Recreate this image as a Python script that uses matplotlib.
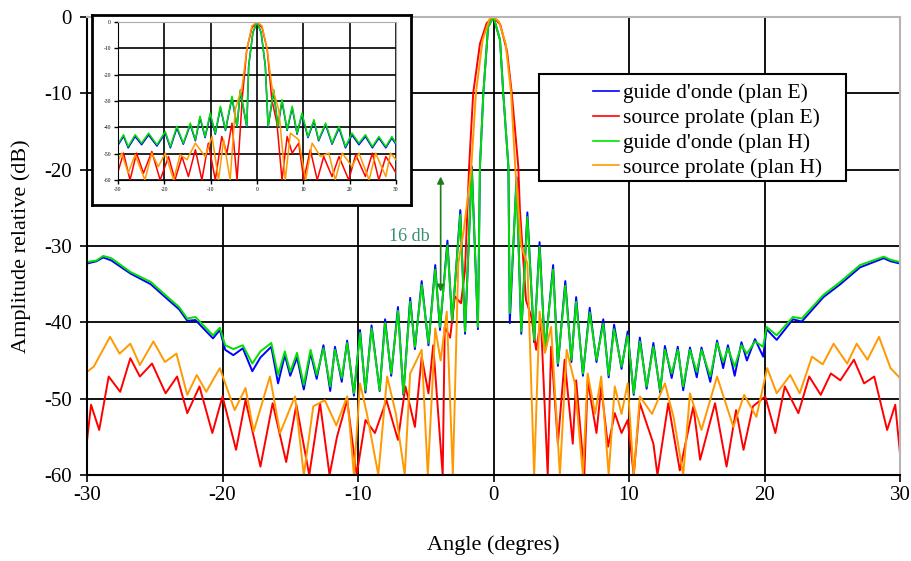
import matplotlib
matplotlib.use('Agg')
import matplotlib.pyplot as plt
from matplotlib.lines import Line2D

plt.rcParams['font.family'] = ['Liberation Serif', 'DejaVu Serif']
plt.rcParams['axes.unicode_minus'] = False

# guide d'onde, plans E (blue) and H (green), same angles
guide_ang = [-30.0, -29.3, -28.8, -28.2, -26.8, -25.3, -24.1, -23.2, -22.6, -22.0,
             -21.3, -20.7, -20.2, -19.8, -19.2, -18.5, -17.8, -17.2, -16.4, -15.9,
             -15.4, -15.0, -14.5, -14.0, -13.5, -13.05, -12.55, -12.05, -11.7, -11.2,
             -10.8, -10.3, -9.85, -9.45, -9.0, -8.4, -8.0, -7.55, -7.05, -6.65,
             -6.15, -5.8, -5.3, -4.8, -4.3, -3.95, -3.4, -3.05, -2.45, -2.1,
             -1.6, -1.15, -1.0, -0.75, -0.4, 0.0, 0.48, 0.72, 1.1, 1.2,
             1.7, 2.05, 2.5, 3.0, 3.4, 3.8, 4.4, 4.75, 5.3, 5.75,
             6.1, 6.6, 7.1, 7.6, 8.1, 8.5, 8.9, 9.45, 9.9, 10.35,
             10.8, 11.3, 11.8, 12.3, 12.65, 13.15, 13.6, 14.0, 14.5, 15.0,
             15.35, 16.0, 16.5, 16.95, 17.3, 17.8, 18.3, 18.7, 19.3, 19.9,
             20.15, 20.9, 22.1, 22.75, 24.35, 25.6, 27.05, 28.8, 29.3, 30.0]
guide_h = [-32.1, -31.9, -31.3, -31.6, -33.4, -34.7, -36.6, -38.0, -39.5, -39.3,
           -40.6, -41.7, -40.7, -43.0, -43.5, -43.0, -45.4, -43.8, -42.7, -46.9,
           -43.8, -46.5, -44.0, -48.2, -43.6, -46.9, -43.4, -48.4, -43.6, -47.3,
           -42.7, -49.3, -41.4, -48.9, -40.8, -48.9, -40.1, -46.7, -38.5, -49.3,
           -37.3, -43.2, -35.1, -42.7, -33.1, -40.6, -29.9, -39.7, -25.9, -41.2,
           -20.0, -40.6, -19.6, -10.0, -1.3, 0.0, -3.0, -10.0, -19.6, -38.8,
           -21.5, -41.2, -26.2, -42.3, -30.1, -43.6, -33.1, -45.4, -35.2, -44.9,
           -37.3, -46.7, -38.7, -44.9, -40.2, -46.9, -40.9, -45.8, -41.7, -49.3,
           -42.5, -48.4, -43.2, -48.9, -43.6, -46.7, -43.6, -48.4, -43.6, -46.5,
           -43.6, -47.1, -42.7, -45.2, -43.4, -45.8, -43.0, -44.1, -42.5, -43.2,
           -40.6, -41.7, -39.3, -39.5, -36.4, -34.7, -32.5, -31.4, -31.8, -32.1]
guide_e = [-32.3, -32.0, -31.5, -31.9, -33.6, -35.0, -36.9, -38.3, -39.8, -39.7,
           -41.0, -42.1, -41.0, -43.6, -44.3, -43.4, -46.4, -44.6, -43.2, -48.0,
           -44.3, -47.0, -44.6, -48.8, -44.0, -47.4, -43.0, -49.0, -43.2, -47.8,
           -42.4, -49.6, -41.0, -49.2, -40.4, -49.0, -39.6, -47.0, -38.0, -49.5,
           -36.8, -43.5, -34.6, -43.0, -32.5, -41.0, -29.3, -40.1, -25.3, -41.5,
           -19.6, -40.9, -19.6, -10.0, -1.3, 0.0, -3.0, -10.0, -19.6, -40.1,
           -21.0, -41.5, -25.6, -42.6, -29.5, -43.9, -32.5, -45.7, -34.6, -45.2,
           -36.7, -47.0, -38.1, -45.2, -39.6, -47.2, -40.3, -46.1, -41.2, -49.5,
           -42.0, -48.7, -42.7, -49.2, -43.1, -47.3, -43.2, -48.9, -43.3, -47.2,
           -43.3, -47.8, -42.4, -46.0, -43.0, -47.0, -42.6, -45.0, -42.2, -44.5,
           -40.9, -42.3, -39.6, -39.9, -36.7, -35.0, -32.8, -31.6, -32.0, -32.3]

# source prolate plan E (red)
prolE_ang = [-30.0, -29.7, -29.1, -28.4, -27.55, -26.8, -26.1, -25.2, -24.2, -23.35,
             -22.6, -21.7, -20.75, -20.0, -19.0, -18.3, -17.2, -16.3, -15.3, -14.55,
             -13.6, -12.8, -12.1, -11.55, -10.8, -10.1, -9.45, -8.75, -7.9, -7.05,
             -6.5, -5.8, -5.3, -4.8, -4.45, -3.75, -3.6, -3.2, -2.85, -2.4,
             -2.1, -1.8, -1.5, -1.0, -0.5, 0.0, 0.5, 1.0, 1.35, 1.83,
             1.95, 2.4, 2.8, 3.15, 3.5, 4.0, 4.25, 4.75, 5.25, 5.85,
             6.1, 6.7, 6.95, 7.6, 7.95, 8.45, 8.95, 9.45, 9.9, 10.35,
             10.8, 11.8, 12.1, 12.9, 13.75, 14.75, 15.25, 16.35, 17.2, 17.9,
             18.45, 19.15, 20.05, 20.8, 21.5, 22.5, 23.3, 24.15, 24.9, 25.6,
             26.6, 27.35, 28.1, 29.05, 29.65, 30.0]
prolE_db = [-55.5, -50.8, -54.1, -47.1, -49.1, -44.7, -47.1, -45.4, -49.3, -47.1,
            -51.9, -48.4, -54.5, -49.7, -56.7, -50.2, -58.9, -50.6, -58.3, -50.8,
            -60.0, -50.6, -60.0, -55.0, -50.2, -60.0, -52.8, -54.5, -50.2, -55.4,
            -48.4, -53.7, -44.5, -49.3, -43.0, -60.0, -40.6, -42.0, -36.6, -37.5,
            -33.1, -19.6, -10.0, -3.5, -0.8, 0.0, -1.0, -4.5, -10.0, -19.6,
            -25.3, -37.1, -39.3, -43.6, -39.7, -60.0, -43.2, -55.9, -44.9, -55.9,
            -47.6, -60.0, -47.6, -54.5, -48.4, -56.3, -51.9, -54.5, -52.8, -60.0,
            -50.6, -55.9, -60.0, -50.6, -59.4, -51.0, -58.0, -50.6, -58.9, -51.5,
            -56.7, -51.0, -49.7, -54.5, -48.4, -51.9, -47.1, -49.5, -46.7, -47.6,
            -44.9, -48.0, -47.1, -54.1, -50.8, -57.2]

# source prolate plan H (orange)
prolH_ang = [-30.0, -29.5, -28.3, -27.6, -26.8, -26.1, -25.1, -24.25, -23.4, -22.6,
             -21.9, -21.2, -20.2, -19.1, -18.3, -17.7, -16.5, -15.75, -14.65, -14.0,
             -13.3, -12.45, -11.6, -10.8, -10.3, -9.85, -9.35, -8.5, -7.85, -7.2,
             -6.55, -6.15, -5.3, -4.85, -4.3, -3.9, -3.45, -3.0, -2.6, -2.2,
             -1.65, -1.3, -0.8, -0.3, 0.0, 0.4, 0.9, 1.3, 1.6, 2.05,
             2.5, 3.0, 3.4, 3.8, 4.25, 4.9, 5.4, 6.0, 6.6, 6.95,
             7.5, 7.95, 8.5, 8.95, 9.45, 9.9, 10.35, 10.8, 11.7, 12.65,
             13.3, 14.0, 14.5, 15.35, 16.5, 17.7, 18.5, 19.4, 20.2, 20.9,
             21.9, 22.6, 23.5, 24.3, 25.1, 26.1, 26.8, 27.6, 28.45, 29.3, 30.0]
prolH_db = [-46.5, -45.8, -41.9, -44.1, -42.8, -45.6, -42.5, -45.2, -44.1, -49.5,
            -46.9, -49.1, -46.0, -51.5, -48.6, -54.3, -47.1, -54.5, -49.7, -60.0,
            -51.0, -50.2, -53.5, -49.7, -60.0, -48.0, -51.9, -60.0, -47.1, -52.0,
            -60.0, -46.7, -43.6, -60.0, -40.8, -45.0, -38.6, -60.0, -32.3, -28.0,
            -20.0, -10.0, -3.0, -0.3, 0.0, -0.6, -3.5, -10.0, -19.6, -30.1,
            -32.3, -60.0, -38.6, -44.0, -40.6, -60.0, -43.6, -48.0, -60.0, -46.7,
            -52.0, -47.1, -60.0, -48.4, -52.0, -48.0, -60.0, -49.7, -52.0, -48.0,
            -52.5, -60.0, -49.3, -54.1, -47.1, -53.7, -49.5, -52.4, -46.0, -49.3,
            -46.9, -49.3, -44.5, -45.5, -42.8, -45.4, -42.8, -44.9, -41.9, -46.0, -47.3]

# inset (other measurement)
in_guide_ang = [-29.9, -28.8, -27.8, -26.3, -24.9, -23.4, -21.6, -19.8, -18.7, -17.3,
                -15.9, -14.4, -13.3, -12.3, -11.2, -10.1, -9.0, -7.9, -6.8, -5.4,
                -4.3, -3.6, -2.2, -1.8, -0.9, 0.0, 0.9, 1.8, 2.4, 3.6,
                4.5, 5.4, 6.5, 7.6, 8.65, 9.7, 11.0, 12.3, 13.3, 14.8,
                16.2, 17.7, 19.1, 20.5, 22.0, 23.4, 24.9, 26.3, 27.8, 29.1, 30.0]
in_guide_h = [-46.0, -42.8, -47.3, -42.8, -46.0, -42.2, -46.6, -41.6, -47.3, -39.6,
              -46.0, -38.4, -44.7, -35.8, -43.5, -34.6, -42.2, -32.0, -40.9, -28.2,
              -39.6, -25.7, -39.6, -16.8, -4.1, 0.0, -4.1, -16.8, -39.6, -25.7,
              -39.6, -29.5, -40.9, -32.0, -42.2, -34.6, -43.5, -37.1, -44.7, -38.4,
              -46.0, -39.6, -47.3, -42.2, -46.0, -42.8, -47.3, -43.5, -47.3, -43.5, -46.0]
in_guide_e = [-46.5, -43.4, -47.8, -43.5, -46.6, -42.9, -47.1, -42.2, -47.8, -40.3,
              -46.4, -39.0, -45.1, -36.4, -43.9, -35.2, -42.6, -32.6, -41.2, -28.8,
              -39.9, -26.3, -39.9, -16.8, -4.1, 0.0, -4.1, -16.8, -39.9, -26.3,
              -39.9, -30.1, -41.2, -32.6, -42.6, -35.2, -43.9, -37.7, -45.1, -39.0,
              -46.4, -40.3, -47.8, -42.9, -46.6, -43.5, -47.8, -44.1, -47.8, -44.1, -46.5]

in_prolE_ang = [-29.9, -28.8, -27.4, -26.0, -24.5, -22.7, -20.9, -19.1, -17.7, -16.2,
                -14.8, -13.3, -11.9, -10.5, -9.0, -7.6, -6.5, -5.4, -4.3, -3.2,
                -2.2, -1.1, 0.0, 1.1, 2.2, 3.2, 4.3, 5.4, 6.5, 7.6,
                9.0, 10.1, 11.5, 13.0, 14.4, 16.2, 17.7, 19.8, 21.3, 23.4,
                24.9, 26.3, 27.8, 29.2, 30.0]
in_prolE_db = [-56.2, -49.8, -60.0, -49.8, -57.4, -49.2, -60.0, -51.1, -60.0, -51.1,
               -58.7, -48.5, -60.0, -46.0, -60.0, -43.5, -49.8, -38.4, -60.0, -29.5,
               -10.4, -2.2, 0.0, -2.2, -10.4, -29.5, -38.4, -60.0, -43.5, -49.8,
               -46.0, -60.0, -48.5, -60.0, -51.1, -58.7, -51.1, -60.0, -50.4, -58.7,
               -49.8, -60.0, -51.1, -54.9, -57.4]

in_prolH_ang = [-29.9, -29.2, -27.8, -26.3, -24.2, -22.7, -21.3, -19.8, -18.0, -16.6,
                -15.1, -13.3, -11.2, -9.7, -8.3, -7.2, -5.8, -4.7, -3.2, -2.2,
                -1.1, 0.0, 1.1, 2.2, 3.2, 4.7, 6.1, 7.2, 9.0, 10.5,
                11.9, 13.7, 15.5, 16.9, 18.4, 20.5, 22.0, 24.2, 25.6, 27.8,
                28.8, 30.0]
in_prolH_db = [-52.3, -49.8, -57.4, -50.4, -60.0, -49.8, -54.9, -49.8, -60.0, -50.4,
               -52.3, -46.0, -51.1, -43.5, -60.0, -44.7, -60.0, -33.3, -24.4, -10.4,
               -1.5, 0.0, -1.5, -10.4, -24.4, -33.3, -60.0, -42.2, -44.7, -60.0,
               -46.0, -51.1, -49.8, -60.0, -49.8, -54.9, -49.8, -60.0, -49.8, -58.7,
               -49.8, -52.3]

labels = ["guide d'onde (plan E)", "source prolate (plan E)",
          "guide d'onde (plan H)", "source prolate (plan H)"]
colors = ['#0000ff', '#ff0000', '#00e000', '#ff9900']

fig = plt.figure(figsize=(9.11, 5.61), dpi=100)
W, H = 911, 561

ax = fig.add_axes([87 / W, 1 - 475 / H, 813 / W, 458 / H])
ax.plot(guide_ang, guide_e, color=colors[0], lw=1.4)
ax.plot(prolE_ang, prolE_db, color=colors[1], lw=1.4)
ax.plot(guide_ang, guide_h, color=colors[2], lw=1.4)
ax.plot(prolH_ang, prolH_db, color=colors[3], lw=1.4)

ax.set_xlim(-30, 30)
ax.set_ylim(-60, 0)
ax.set_xticks(range(-30, 31, 10))
ax.set_yticks(range(-60, 1, 10))
ax.grid(True, color='black', lw=1.3)
ax.set_axisbelow(True)
ax.tick_params(labelsize=15, length=5, width=1.2, direction='out')
ax.tick_params(axis='x', pad=3)
ax.tick_params(axis='y', pad=6)
for s in ['top', 'right']:
    ax.spines[s].set_color('#b5b5b5')
    ax.spines[s].set_linewidth(1.5)
for s in ['bottom', 'left']:
    ax.spines[s].set_linewidth(1.5)
ax.set_xlabel('Angle (degres)', fontsize=16, labelpad=22)
ax.set_ylabel('Amplitude relative (dB)', fontsize=16, labelpad=9)

# 16 db annotation
ax.annotate('', xy=(-3.9, -20.9), xytext=(-3.9, -36.0),
            arrowprops=dict(arrowstyle='<|-|>', color='#1e7b1e', lw=1.2,
                            mutation_scale=10, shrinkA=0, shrinkB=0))
ax.text(-6.2, -28.8, '16 db', color='#3a9070', fontsize=13, ha='center', va='center')

# legend box
ax.add_patch(plt.Rectangle((0.556, 0.641), 0.378, 0.2345, transform=ax.transAxes,
                           facecolor='white', edgecolor='black', lw=1.5, zorder=5))
handles = [Line2D([], [], color=c, lw=1.2) for c in colors]
leg = ax.legend(handles, labels, loc='upper left', bbox_to_anchor=(0.622, 0.855),
                frameon=False, fontsize=15.5, borderpad=0, borderaxespad=0,
                handlelength=1.2, handletextpad=0.2, labelspacing=0.22)
leg.set_zorder(6)

# inset
frame = fig.add_axes([92 / W, 1 - 205 / H, 319 / W, 190 / H])
frame.set_xticks([])
frame.set_yticks([])
for s in frame.spines.values():
    s.set_linewidth(2)

ins = fig.add_axes([118 / W, 1 - 180 / H, 278 / W, 158 / H])
ins.plot(in_guide_ang, in_guide_e, color=colors[0], lw=1.1)
ins.plot(in_prolE_ang, in_prolE_db, color=colors[1], lw=1.1)
ins.plot(in_guide_ang, in_guide_h, color=colors[2], lw=1.1)
ins.plot(in_prolH_ang, in_prolH_db, color=colors[3], lw=1.1)
ins.set_xlim(-30, 30)
ins.set_ylim(-60, 0)
ins.set_xticks(range(-30, 31, 10))
ins.set_yticks(range(-60, 1, 10))
ins.grid(True, color='black', lw=1.2)
ins.set_axisbelow(True)
ins.tick_params(labelsize=4, length=3, width=1, pad=2)
for s in ['top', 'right']:
    ins.spines[s].set_color('#aaaaaa')

fig.savefig('out.png', dpi=100)
